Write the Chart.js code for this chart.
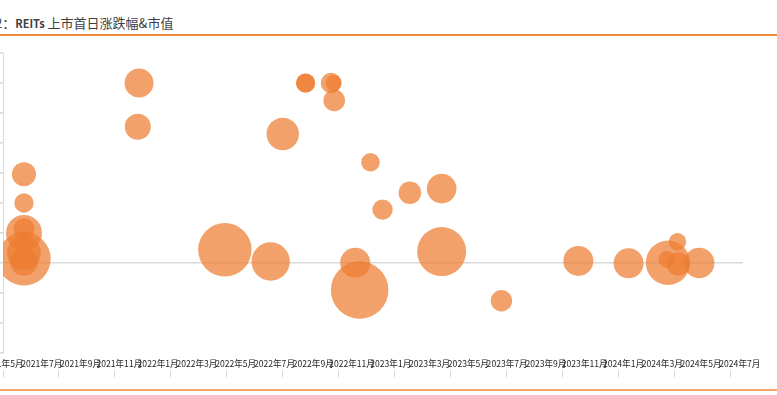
<!DOCTYPE html>
<html>
<head>
<meta charset="utf-8">
<script src="https://cdn.jsdelivr.net/npm/chart.js@4.4.1/dist/chart.umd.min.js"></script>
<style>
    body { margin: 0; background: #fff; width: 777px; height: 395px; overflow: hidden; position: relative; }
    .title { position: absolute; left: -18px; top: 14px; font: 13px "Noto Sans CJK SC", sans-serif; color: #404040; white-space: nowrap; line-height: 18px; }
    .title .en { font-size: 11px; font-weight: 600; }
    .line-top { position: absolute; left: 0; top: 34px; width: 777px; height: 2px; background: #ef8b40; }
    .line-bottom { position: absolute; left: 0; top: 389px; width: 777px; height: 2px; background: #f3a66b; }
    #bubble-chart { position: absolute; left: 0; top: 40px; }
</style>
</head>
<body>
<div class="title">图2：<span class="en">REITs</span> 上市首日涨跌幅&amp;市值</div>
<div class="line-top"></div>
<canvas id="bubble-chart" width="777" height="337"></canvas>
<div class="line-bottom"></div>
<script>
// 上市日期 / 首日涨跌幅(%) / 市值(亿元)
const listDates = [
    '2021-06-21', '2021-06-21', '2021-06-21', '2021-06-21', '2021-06-21', '2021-06-21', '2021-06-21',
    '2021-12-19', '2021-12-17',
    '2022-05-03', '2022-07-14', '2022-08-02',
    '2022-09-07', '2022-09-07', '2022-10-17', '2022-10-21', '2022-10-22',
    '2022-11-24', '2022-12-01', '2022-12-18',
    '2023-01-06', '2023-02-18', '2023-04-09', '2023-04-09',
    '2023-07-12', '2023-11-10',
    '2024-01-28', '2024-03-30', '2024-03-28', '2024-04-14', '2024-04-15', '2024-05-18'
];
const firstDayChange = [
    14.8, 10.0, 5.0, 5.7, 0.7, 1.7, 0.2,
    30.0, 22.7,
    2.2, 0.25, 21.5,
    30.0, 30.0, 30.0, 30.0, 27.1,
    0.05, -4.5, 16.8,
    8.9, 11.7, 12.4, 1.9,
    -6.3, 0.35,
    -0.05, 0.03, 0.6, 3.55, -0.15, 0.0
];
const marketCap = [
    17.4, 11.3, 39.1, 13.3, 86, 34.8, 23.6,
    25.3, 20.4,
    86, 44.4, 31.6,
    11.0, 11.0, 12.8, 7.7, 14.1,
    27.1, 100, 10.4,
    12.5, 15.4, 26.4, 72.4,
    13.8, 27.1,
    27.1, 59.4, 8.3, 9.1, 16.5, 28.2
];
const tickLabels = [
    '2021年5月', '2021年7月', '2021年9月', '2021年11月', '2022年1月', '2022年3月', '2022年5月',
    '2022年7月', '2022年9月', '2022年11月', '2023年1月', '2023年3月', '2023年5月', '2023年7月',
    '2023年9月', '2023年11月', '2024年1月', '2024年3月', '2024年5月', '2024年7月'
];

const axisStart = '2021-05-19';
const DAY = 86400000;
function dayIndex(s) {
    return (Date.parse(s) - Date.parse(axisStart)) / DAY;
}

const points = listDates.map((d, i) => ({
    x: dayIndex(d),
    y: firstDayChange[i],
    r: 2.88 * Math.sqrt(marketCap[i])
}));

function bubblechart() {
    new Chart(document.getElementById('bubble-chart'), {
        type: 'bubble',
        data: {
            datasets: [{
                label: '首日涨跌幅',
                data: points,
                backgroundColor: 'rgba(237,125,49,0.72)',
                borderWidth: 0,
                hoverBorderWidth: 0,
                clip: 0
            }]
        },
        options: {
            responsive: false,
            animation: false,
            devicePixelRatio: 1,
            layout: { autoPadding: false, padding: { top: 13, right: 34, left: 0, bottom: 0 } },
            plugins: {
                legend: { display: false },
                tooltip: { enabled: false }
            },
            scales: {
                x: {
                    type: 'linear',
                    position: 'bottom',
                    weight: 0,
                    min: 0,
                    max: 1164,
                    grid: { display: false, drawTicks: false },
                    border: { display: false },
                    afterBuildTicks: (scale) => {
                        scale.ticks = tickLabels.map((l, i) => ({ value: i * 61 }));
                    },
                    ticks: {
                        autoSkip: false,
                        maxRotation: 0,
                        padding: 6,
                        color: '#262626',
                        font: { family: '"Noto Sans CJK SC", sans-serif', size: 8.6 },
                        callback: (v, i) => tickLabels[i]
                    },
                    afterFit: (scale) => {
                        scale.height = 18;
                        scale.paddingLeft = 0;
                        scale.paddingRight = 0;
                    }
                },
                x2: {
                    type: 'linear',
                    axis: 'x',
                    position: 'bottom',
                    weight: 1,
                    min: 0,
                    max: 1164,
                    afterBuildTicks: (scale) => {
                        const t = [];
                        for (let v = 0; v <= 1164; v += 88) t.push({ value: v });
                        scale.ticks = t;
                    },
                    ticks: { display: false },
                    grid: {
                        drawOnChartArea: false,
                        drawTicks: true,
                        tickLength: 6,
                        tickColor: '#d6d6d6'
                    },
                    border: { display: false },
                    afterFit: (scale) => {
                        scale.height = 6;
                        scale.paddingLeft = 0;
                        scale.paddingRight = 0;
                    }
                },
                y: {
                    min: -15,
                    max: 35,
                    ticks: { display: false, stepSize: 5 },
                    grid: {
                        color: (ctx) => ctx.tick && ctx.tick.value === 0 ? '#d9d9d9' : 'rgba(0,0,0,0)',
                        tickColor: '#d9d9d9',
                        tickLength: 3,
                        lineWidth: 1.5
                    },
                    border: { display: true, color: '#d9d9d9', width: 1 },
                    afterFit: (scale) => {
                        scale.width = 3;
                        scale.paddingTop = 0;
                        scale.paddingBottom = 0;
                    }
                }
            }
        }
    });
}

bubblechart();
</script>
</body>
</html>
